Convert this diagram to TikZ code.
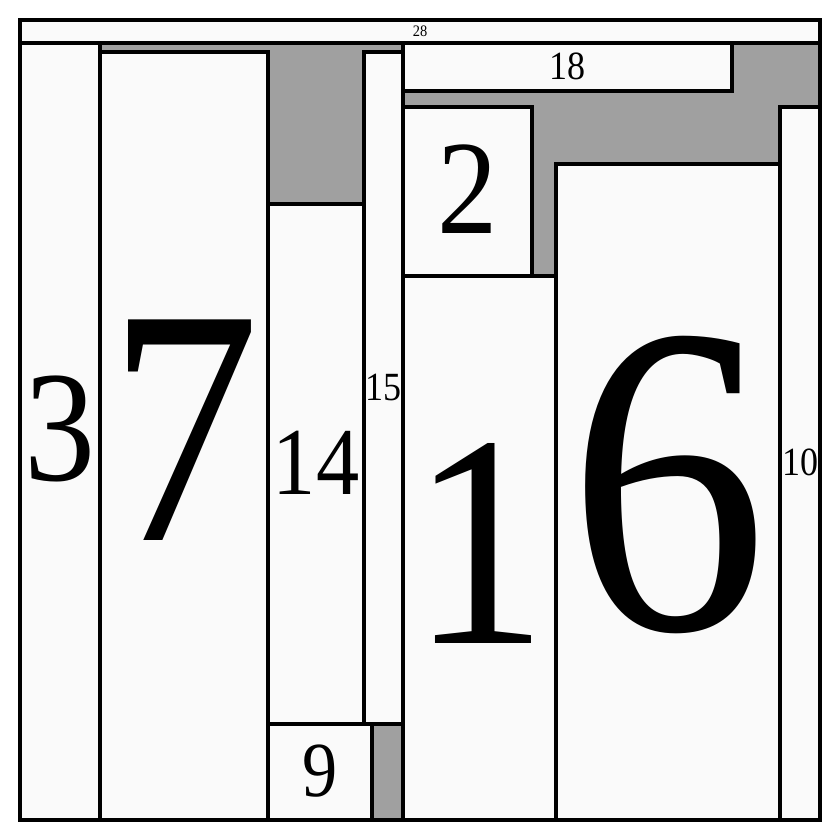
\documentclass[tikz,border=0pt]{standalone}
\usepackage{fontspec}
\setmainfont[FakeStretch=0.9]{Liberation Serif}
\usepackage{xcolor}
\usetikzlibrary{positioning}
\definecolor{TMgap}{HTML}{A0A0A0}
\definecolor{TMcell}{HTML}{FAFAFA}
\tikzset{
  gapbox/.style={draw=black, fill=TMgap, line width=3.2pt},
  cellbox/.style={draw=black, fill=TMcell, line width=3.2pt},
  framebox/.style={draw=black, line width=3.6pt},
  lbl/.style={inner sep=0pt, text=black, yshift=#1*0.016pt, font=\fontsize{#1}{#1}\selectfont}
}
\begin{document}
\begin{tikzpicture}[x=1pt, y=-1pt]
  \useasboundingbox[fill=white] (0,0) rectangle (840,840);
  % gaps behind the cells
  \draw[gapbox] (100,43) rectangle (403,820);
  \draw[gapbox] (403,43) rectangle (820,820);
  % cells
  \draw[cellbox] (20,20) rectangle (820,43) node[lbl=16, midway] (c28) {28};
  \draw[cellbox] (20,43) rectangle (100,820) node[lbl=158, midway] (c3) {3};
  \draw[cellbox] (100,52) rectangle (268,820) node[lbl=337, midway] (c7) {7};
  \draw[cellbox] (268,204) rectangle (364,724) node[lbl=96, midway] (c14) {14};
  \draw[cellbox] (364,52) rectangle (403,724) node[lbl=40, midway] (c15) {15};
  \draw[cellbox] (268,724) rectangle (372,820) node[lbl=78, midway] (c9) {9};
  \draw[cellbox] (403,43) rectangle (732,91) node[lbl=40, midway] (c18) {18};
  \draw[cellbox] (403,107) rectangle (532,276) node[lbl=134, midway] (c2) {2};
  \draw[cellbox] (403,276) rectangle (556,820) node[lbl=303, midway] (c1) {1};
  \draw[cellbox] (556,164) rectangle (780,820) node[lbl=443, midway] (c6) {6};
  \draw[cellbox] (780,107) rectangle (820,820) node[lbl=40, midway] (c10) {10};
  % outer frame
  \draw[framebox] (20,20) rectangle (820,820);
\end{tikzpicture}
\end{document}
